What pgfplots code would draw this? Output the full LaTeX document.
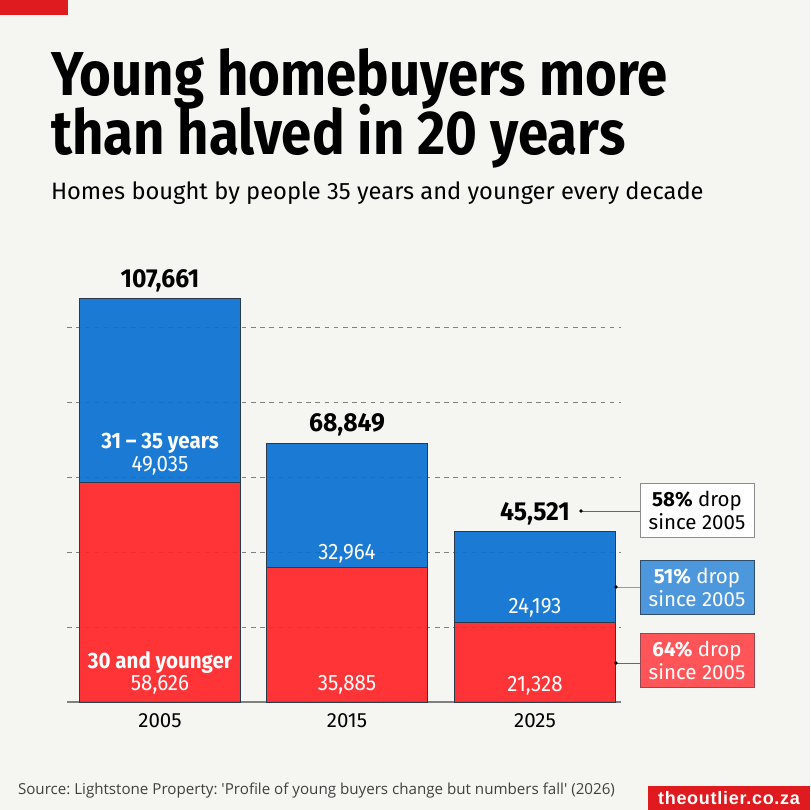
\documentclass[border=0pt]{standalone}
\usepackage{fontspec}
\usepackage{pgfplots}
\pgfplotsset{compat=1.18}
\setmainfont{Fira Sans}
\newfontfamily\titlef[FakeStretch=0.88]{Fira Sans}
\newfontfamily\totalf[FakeStretch=0.95]{Fira Sans}
\newfontfamily\condf[FakeStretch=0.92]{Fira Sans}
\newfontfamily\srcf{Open Sans}
\newfontfamily\brandf[LetterSpace=4]{Liberation Sans}

\definecolor{bg}{HTML}{F5F5F1}
\definecolor{brand}{HTML}{E01B1F}
% bar fills are a little see-through, the grid shows through them
\definecolor{barblue}{RGB}{9,112,210}
\definecolor{barred}{RGB}{255,36,40}
\definecolor{boxblue}{HTML}{4D97DC}
\definecolor{boxred}{HTML}{FF5558}
\definecolor{edgec}{HTML}{2B3A4A}

\begin{document}
% y=-1pt: every plain coordinate below is a pixel of the 810x810 picture
\begin{tikzpicture}[x=1pt,y=-1pt,
    txt/.style={inner sep=0pt,outer sep=0pt},
    total/.style={txt,anchor=base,font=\fontsize{26}{26}\selectfont\totalf\bfseries},
    seg/.style={txt,anchor=base,text=white,font=\fontsize{22.3}{22.3}\selectfont\condf},
    segb/.style={txt,anchor=base,text=white,font=\fontsize{22.3}{22.3}\selectfont\condf\bfseries},
    note/.style={draw=#1,line width=1pt,minimum width=114pt,minimum height=54pt,inner sep=0pt,align=center,font=\fontsize{20.5}{23}\selectfont}]
\clip (0,0) rectangle (810,810);
\fill[bg] (0,0) rectangle (810,810);
\fill[brand] (0,0) rectangle (68,15);
\fill[brand] (648,786) rectangle (810,810);

\node[txt,anchor=base west,font=\fontsize{62}{62}\selectfont\titlef\bfseries] at (51,96) {Young homebuyers more};
\node[txt,anchor=base west,font=\fontsize{62}{62}\selectfont\titlef\bfseries] at (51,155) {than halved in 20 years};
\node[txt,anchor=base west,font=\fontsize{23.7}{24}\selectfont] at (51,200) {Homes bought by people 35 years and younger every decade};

\begin{axis}[
    at={(67pt,-702pt)}, anchor=south west,
    scale only axis, width=554pt, height=450pt,
    xmin=67, xmax=621, ymin=0, ymax=120000,
    ybar stacked, bar width=161.5pt,
    axis x line*=bottom, axis y line*=left,
    y axis line style={draw=none},
    x axis line style={draw=black!50,line width=1.5pt,-},
    major tick length=0pt,
    xtick={160,347,535}, xticklabels={2005,2015,2025},
    xticklabel style={font=\fontsize{20.5}{20.5}\selectfont,text=black,yshift=-8pt},
    scaled y ticks=false,
    ytick={20000,40000,60000,80000,100000}, yticklabels={},
    ymajorgrids,
    grid style={draw=black!50,line width=0.8pt,dash pattern=on 4.6pt off 4.6pt},
    clip=false,
]
\addplot[fill=barred,fill opacity=0.92,draw=edgec,line width=0.9pt] coordinates {(160,58626) (347,35885) (535,21328)};
\addplot[fill=barblue,fill opacity=0.92,draw=edgec,line width=0.9pt] coordinates {(160,49035) (347,32964) (535,24193)};
\end{axis}

% totals
\node[total] at (160,287) {107,661};
\node[total] at (347,431) {68,849};
\node[total] at (535,520) {45,521};

% segment labels
\node[segb] at (160,448) {31 – 35 years};
\node[seg] at (160,471) {49,035};
\node[segb] at (160,668) {30 and younger};
\node[seg] at (160,690) {58,626};
\node[seg] at (347,559) {32,964};
\node[seg] at (347,690) {35,885};
\node[seg] at (535,613) {24,193};
\node[seg] at (535,691) {21,328};

\draw[black!60,line width=1pt] (581,511) -- (640,511);
\draw[black!40,line width=1pt] (616,587) -- (640,587);
\draw[black!60,line width=1pt] (616,663) -- (640,663);
\fill (581,511) circle (1.8pt);
\fill (616,587) circle (1.8pt);
\fill (616,663) circle (1.8pt);

\node[note=black!45,fill=white,text=black] at (697,510) {\textbf{58\%} drop\\since 2005};
\node[note=edgec!80!boxblue,fill=boxblue,text=white] at (697,587) {\textbf{51\%} drop\\since 2005};
\node[note=edgec!50!boxred,fill=boxred,text=white] at (697,660) {\textbf{64\%} drop\\since 2005};

\node[txt,anchor=base west,text=black!75,font=\fontsize{15.15}{15.15}\selectfont\srcf\frenchspacing] at (18,794) {Source: Lightstone Property: 'Profile of young buyers change but numbers fall' (2026)};
\node[txt,anchor=base,text=white,font=\fontsize{18}{18}\selectfont\brandf\bfseries] at (729,804) {theoutlier.co.za};
\end{tikzpicture}
\end{document}
